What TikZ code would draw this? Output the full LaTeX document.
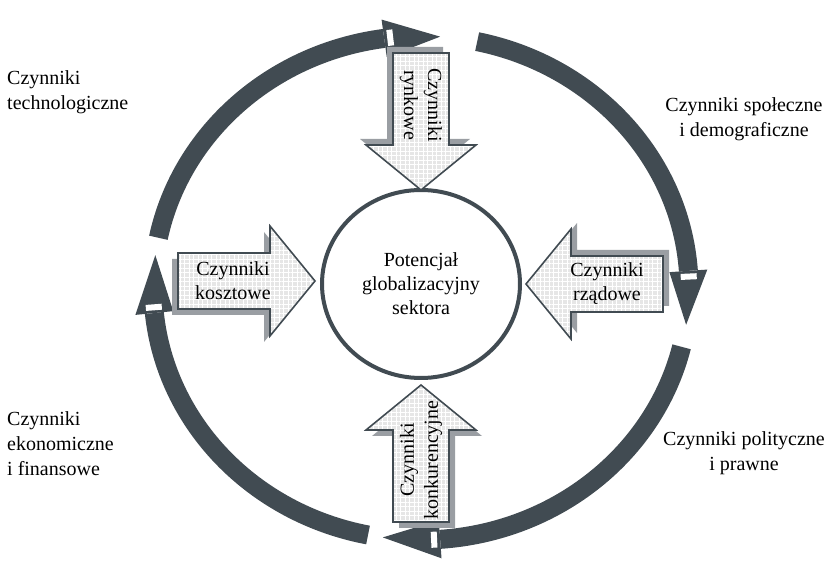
\documentclass[tikz,border=0pt]{standalone}
\usepackage{fontspec}
\setmainfont{Liberation Serif}
\usetikzlibrary{calc}
\usetikzlibrary{patterns.meta}
\usetikzlibrary{shapes.geometric}

\definecolor{ringdark}{HTML}{414B52}
\definecolor{shadowgray}{HTML}{9A9EA3}
\definecolor{boxfill}{HTML}{E6E6E6}

\tikzset{
  ringband/.style={draw=ringdark, line width=19pt},
  factortext/.style={align=center, inner sep=0pt, font=\fontsize{20}{24}\selectfont},
  outertext/.style={align=left, inner sep=0pt, font=\fontsize{20}{25}\selectfont},
  pics/factorarrow/.style={code={
      % shadow first, then the patterned arrow
      \fill[shadowgray] (-6,-34) -- (86,-34) -- (86,-61) -- (131,-6) -- (86,49) -- (86,22) -- (-6,22) -- cycle;
      \draw[ringdark, line width=1.6pt, preaction={fill=boxfill},
            preaction={pattern={Hatch[angle=0,distance=4.5pt,line width=0.5pt]}, pattern color=white}]
        (0,-28) -- (92,-28) -- (92,-55) -- (137,0) -- (92,55) -- (92,28) -- (0,28) -- cycle;
  }},
}

\begin{document}
\begin{tikzpicture}[x=1pt, y=1pt]
      \useasboundingbox (0,0) rectangle (836,565);

      % Define ring centre
      \coordinate (ring) at (421,277);

      % Draw the four curved arrows of the ring
      \foreach \s/\b/\t in {168.5/97.9/85.9, 77.9/3.9/-8.4, -13.5/-85.9/-98.2, -101.4/-174.3/-187.5}{
        \draw[ringband] ($(ring)+(\s:268 and 252)$) arc[start angle=\s, end angle=\b, x radius=268, y radius=252];
        \fill[ringdark] ($(ring)+(\b:287 and 271)$) -- ($(ring)+(\t:268 and 252)$) -- ($(ring)+(\b:249 and 233)$) -- cycle;
        \draw[white, line width=6pt] ($(ring)+(\b-1.3:260 and 244)$) -- ($(ring)+(\b-1.3:276 and 260)$);
      }

      % Centre circle
      \node[ellipse, draw=ringdark, line width=4pt, minimum width=198pt, minimum height=188pt,
            factortext] (core) at (421,281) {Potencjał\\globalizacyjny\\sektora};

      % Block arrows pointing at the centre
      \pic at (178,284) {factorarrow};
      \pic[rotate=180] at (663,281) {factorarrow};
      \pic[rotate=-90] at (421,512) {factorarrow};
      \pic[rotate=90] at (421,43) {factorarrow};

      % Label the block arrows
      \node[factortext] (kosztowe) at (233,284) {Czynniki\\kosztowe};
      \node[factortext] (rzadowe) at (607,281) {Czynniki\\rządowe};
      \node[factortext, rotate=-90] (rynkowe) at (421,460) {Czynniki\\rynkowe};
      \node[factortext, rotate=90] (konkurencyjne) at (421,105) {Czynniki\\konkurencyjne};

      % Label the outer factors
      \node[outertext, anchor=west] (techno) at (7,473) {Czynniki\\technologiczne};
      \node[outertext, align=center] (spoleczne) at (744,446) {Czynniki społeczne\\i demograficzne};
      \node[outertext, anchor=west] (ekonom) at (7,121) {Czynniki\\ekonomiczne\\i finansowe};
      \node[outertext, align=center] (polityczne) at (744,112) {Czynniki polityczne\\i prawne};
    \end{tikzpicture}
\end{document}
